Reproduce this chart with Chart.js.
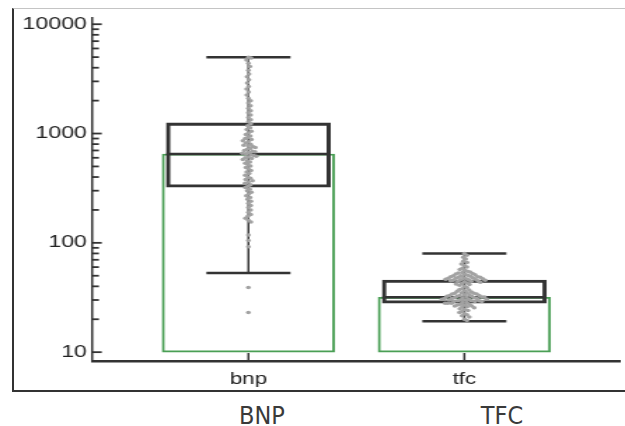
<!DOCTYPE html>
<html>
<head>
<meta charset="utf-8">
<script src="https://cdn.jsdelivr.net/npm/chart.js@4/dist/chart.umd.min.js"></script>
<style>
  html, body { margin: 0; padding: 0; background: #fff; }
  #page { position: relative; width: 625px; height: 426px; overflow: hidden; }
  #frame {
    position: absolute; left: 12px; top: 8px; width: 613px; height: 384px;
    box-sizing: border-box;
    border-top: 1px solid #c4c4c4; border-left: 2px solid #333; border-bottom: 2px solid #333;
  }
  /* the plot is drawn narrow and stretched sideways */
  #plot { position: absolute; left: 0; top: 0; width: 446px; height: 395px; transform-origin: 0 0; }
  .group-title {
    position: absolute; top: 403px; transform: translateX(-50%);
    font-family: 'Liberation Sans Narrow', 'DejaVu Sans Condensed', sans-serif; font-size: 25px; line-height: 1;
    color: #3a3a3a; white-space: nowrap;
  }
</style>
</head>
<body>
<div id="page">
  <div id="frame"></div>
  <div id="plot"><canvas id="boxChart"></canvas></div>
  <div class="group-title" style="left:262px">BNP</div>
  <div class="group-title" style="left:502px">TFC</div>
</div>
<script>
// ===== Data =====
const categories = ['bnp', 'tfc'];
const barTops = [650, 31.8];
const medians = [650, 31.8];
const q1 = [323, 28.1];
const q3 = [1250, 45.6];
const whiskerLow = [53, 19.2];
const whiskerHigh = [5000, 80];
const yLabelTicks = [10, 100, 1000, 10000];

const bnpValues = [
    5000, 4900, 4700, 4400, 4100, 3800, 3500, 3300, 3100, 2900, 2700, 2550, 2400, 2250,
    2100, 2000, 1900, 1800, 1700, 1620, 1550, 1480, 1400, 1340, 1280, 1230, 1180, 1130,
    1090, 1050, 1010, 980, 950, 920, 900, 880, 860, 840, 820, 800, 780, 770, 760, 745,
    730, 715, 700, 690, 680, 670, 660, 650, 640, 630, 620, 610, 600, 590, 580, 565, 550,
    535, 520, 505, 490, 475, 460, 445, 430, 415, 400, 390, 380, 370, 360, 350, 340, 330,
    320, 310, 300, 290, 280, 270, 260, 250, 240, 230, 220, 210, 200, 190, 182, 175, 168,
    161, 155, 118, 105, 92, 39, 23
];
const tfcValues = [
    80, 77, 74, 71, 68, 66, 64, 62, 60, 58.5, 57,
    56, 55, 54, 53.5, 53, 52.5, 52, 51.5, 51, 50.5, 50, 50, 49.5, 49, 49, 48.5, 48.5, 48, 48,
    47.5, 47.5, 47, 47, 46.5, 46.5, 46, 46, 45.5, 45.5, 45, 45, 44.5, 44.5, 44, 43.5, 43,
    42.5, 42, 41.5, 41,
    40, 39, 38, 37.5, 37,
    36.5, 36, 35.5, 35, 35, 34.5, 34.5, 34, 34, 33.5, 33.5, 33, 33, 33, 32.5, 32.5, 32.5,
    32, 32, 32, 31.5, 31.5, 31.5, 31, 31, 31, 30.5, 30.5, 30.5, 30, 30, 30, 29.5, 29.5,
    29.5, 29, 29, 29, 28.5, 28.5, 28, 28, 28, 27.5, 27.5, 27, 27, 26.5, 26.5, 26, 26, 25.5,
    25, 24.5, 24,
    23.5, 23, 22.5, 22, 21.5, 21, 20, 19.5
];

// ===== Look =====
const STRETCH = 625 / 446;
const INK = '#333333';
const GREEN = '#4a9f55';
const DOT = '#a2a2a2';
const BAR_W = 123;
const BOX_W = 117;
const CAP_W = 60;
const DOT_D = 4;   // dot spacing for the swarm, in on-screen px

document.getElementById('plot').style.transform = `scaleX(${STRETCH})`;
Chart.defaults.font.family = "'Liberation Sans', Arial, sans-serif";
Chart.defaults.color = '#222222';

// whisker stems, caps and median lines go over the green bars, under the boxes
const boxWhiskers = {
    id: 'boxWhiskers',
    afterDatasetDraw(chart, args) {
        if (args.index !== 0) return;
        const { ctx, scales: { x, y } } = chart;
        ctx.save();
        ctx.strokeStyle = INK;
        categories.forEach((c, i) => {
            const cx = x.getPixelForValue(i);
            ctx.lineWidth = 1.5;
            ctx.beginPath();
            ctx.moveTo(cx, y.getPixelForValue(whiskerHigh[i]));
            ctx.lineTo(cx, y.getPixelForValue(whiskerLow[i]));
            ctx.stroke();
            ctx.lineWidth = 2.5;
            [whiskerLow[i], whiskerHigh[i]].forEach(v => {
                const py = y.getPixelForValue(v);
                ctx.beginPath();
                ctx.moveTo(cx - CAP_W / 2, py);
                ctx.lineTo(cx + CAP_W / 2, py);
                ctx.stroke();
            });
            const my = y.getPixelForValue(medians[i]);
            ctx.beginPath();
            ctx.moveTo(cx - BOX_W / 2, my);
            ctx.lineTo(cx + BOX_W / 2, my);
            ctx.stroke();
        });
        ctx.restore();
    }
};

// tick marks point into the plot
const innerTicks = {
    id: 'innerTicks',
    afterDraw(chart) {
        const { ctx, chartArea, scales: { x, y } } = chart;
        ctx.save();
        ctx.strokeStyle = INK;
        ctx.lineWidth = 1.8;
        y.ticks.forEach(t => {
            const py = y.getPixelForValue(t.value);
            const len = yLabelTicks.includes(t.value) ? 6.6 : 4.6;
            ctx.beginPath();
            ctx.moveTo(chartArea.left, py);
            ctx.lineTo(chartArea.left + len, py);
            ctx.stroke();
        });
        ctx.lineWidth = 1.5;
        x.ticks.forEach(t => {
            const px = x.getPixelForValue(t.value);
            ctx.beginPath();
            ctx.moveTo(px, chartArea.bottom);
            ctx.lineTo(px, chartArea.bottom - 8);
            ctx.stroke();
        });
        ctx.restore();
    }
};

const dotData = [];
bnpValues.forEach(v => dotData.push({ x: 0, y: v }));
tfcValues.forEach(v => dotData.push({ x: 1, y: v }));

const chart = new Chart(document.getElementById('boxChart'), {
    type: 'bar',
    data: {
        datasets: [
            {
                label: 'median', data: categories.map((c, i) => ({ x: i, y: [yLabelTicks[0], barTops[i]] })),
                backgroundColor: 'rgba(0,0,0,0)', borderColor: GREEN, borderWidth: 1.3,
                borderSkipped: false, barThickness: BAR_W, grouped: false, order: 3
            },
            {
                label: 'iqr', data: categories.map((c, i) => ({ x: i, y: [q1[i], q3[i]] })),
                backgroundColor: 'rgba(0,0,0,0)', borderColor: INK, borderWidth: 2.4,
                borderSkipped: false, barThickness: BOX_W, grouped: false, order: 2
            },
            {
                type: 'scatter', label: 'values', data: dotData,
                pointRadius: 1.75, pointBackgroundColor: DOT, pointBorderWidth: 0, order: 1
            }
        ]
    },
    options: {
        responsive: true, maintainAspectRatio: false, animation: false,
        layout: { padding: { top: 18, right: 4, left: 0, bottom: 0 } },
        plugins: { legend: { display: false }, tooltip: { enabled: false } },
        scales: {
            x: {
                type: 'linear', min: -0.722, max: 1.718, offset: false,
                grid: { display: false, drawTicks: false, tickLength: 0 },
                border: { display: true, color: INK, width: 2.6 },
                afterBuildTicks: s => { s.ticks = categories.map((c, i) => ({ value: i })); },
                afterFit: s => { s.height = 34; s.paddingLeft = 0; s.paddingRight = 0; },
                ticks: { autoSkip: false, maxRotation: 0, padding: 9, font: { size: 16 },
                         callback: v => categories[v] ?? '' }
            },
            y: {
                type: 'logarithmic', min: 8.3, max: 11400,
                grid: { display: false, drawTicks: false, tickLength: 0 },
                border: { display: true, color: INK, width: 1.5 },
                afterBuildTicks: s => {
                    const ticks = [];
                    yLabelTicks.forEach(base => {
                        for (let m = 1; m <= 9; m++) {
                            const v = m * base;
                            if (v >= s.min && v <= s.max) ticks.push({ value: v });
                        }
                    });
                    s.ticks = ticks;
                },
                afterFit: s => { s.width = 66; s.paddingTop = 0; s.paddingBottom = 0; },
                ticks: { autoSkip: false, padding: 4, font: { size: 16.5 },
                         callback: v => yLabelTicks.includes(v) ? String(v) : '' }
            }
        }
    },
    plugins: [boxWhiskers, innerTicks]
});

// beeswarm: spread equal values sideways so the dots don't pile up
function swarmOffsets(values, yScale) {
    const pts = values.map(v => ({ y: yScale.getPixelForValue(v), x: 0 }));
    const placed = [];
    pts.slice().sort((a, b) => a.y - b.y).forEach(p => {
        const near = placed.filter(q => Math.abs(q.y - p.y) < DOT_D);
        const cands = [0];
        near.forEach(q => {
            const dx = Math.sqrt(DOT_D * DOT_D - (q.y - p.y) ** 2);
            cands.push(q.x + dx, q.x - dx);
        });
        cands.sort((a, b) => Math.abs(a) - Math.abs(b));
        for (const c of cands) {
            if (near.every(q => (q.x - c) ** 2 + (q.y - p.y) ** 2 >= DOT_D * DOT_D - 1e-6)) { p.x = c; break; }
        }
        placed.push(p);
    });
    return pts.map(p => p.x);
}

const xs = chart.scales.x, ys = chart.scales.y;
const unitPx = (xs.getPixelForValue(1) - xs.getPixelForValue(0)) * STRETCH;
const offsets = swarmOffsets(bnpValues, ys).concat(swarmOffsets(tfcValues, ys));
chart.data.datasets[2].data = dotData.map((d, i) => ({ x: d.x + offsets[i] / unitPx, y: d.y }));
chart.update('none');
</script>
</body>
</html>
